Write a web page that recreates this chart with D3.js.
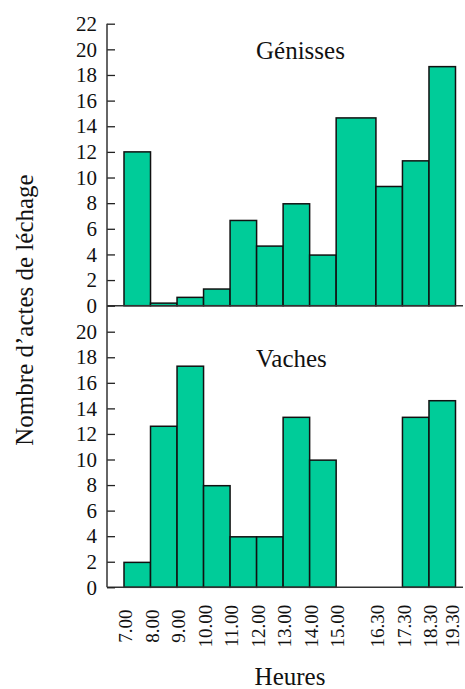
<!DOCTYPE html>
<meta charset="utf-8">
<style>
    body { margin: 0; background: #fff; }
    svg text { font-family: "Liberation Serif", "Times New Roman", Times, "Nimbus Roman", "DejaVu Serif", serif; fill: #111; }
    .bar { fill: #00cc99; stroke: #111; stroke-width: 1.5px; }
    .tick line { stroke: #222; stroke-width: 1.3px; }
</style>
<svg width="465" height="689"></svg>
<script src="https://d3js.org/d3.v7.min.js"></script>
<script>

    // bin edges (hours) and labels
    var edges = [7, 8, 9, 10, 11, 12, 13, 14, 15, 16.5, 17.5, 18.5, 19.5];
    var edgeLabels = ["7.00", "8.00", "9.00", "10.00", "11.00", "12.00", "13.00", "14.00", "15.00",
        "16.30", "17.30", "18.30", "19.30"];

    // Génisses
    var genisses = [12, 0.2, 0.65, 1.3, 6.65, 4.65, 7.95, 3.95, 14.65, 9.3, 11.3, 18.65];
    // Vaches
    var vaches = [1.95, 12.6, 17.3, 7.95, 3.95, 3.95, 13.3, 9.95, 0, 0, 13.3, 14.6];

    var topTicks = d3.range(0, 23, 2);
    var botTicks = d3.range(0, 21, 2);

    var serif = "'Liberation Serif', 'Times New Roman', Times, 'Nimbus Roman', 'DejaVu Serif', serif";

    var svg = d3.select("svg");

    var axisX = 107, rightX = 463;

    var x = d3.scaleLinear().domain([7, 19.5]).range([124, 455.5]);
    var yTop = d3.scaleLinear().domain([0, 22]).range([305.7, 23.7]);
    var yBot = d3.scaleLinear().domain([0, 20]).range([587.3, 331.7]);

    function panel(values, y, ticks, label, labelY) {
        var g = svg.append("g");

        var bins = values.map(function (v, i) {
            return {x0: edges[i], x1: edges[i + 1], v: v};
        }).filter(function (d) { return d.v > 0; });

        g.selectAll("rect")
            .data(bins)
            .enter()
            .append("rect")
            .attr("class", "bar")
            .attr("x", function (d) { return x(d.x0); })
            .attr("width", function (d) { return x(d.x1) - x(d.x0); })
            .attr("y", function (d) { return y(d.v); })
            .attr("height", function (d) { return y(0) - y(d.v); });

        // baseline
        g.append("line")
            .attr("x1", axisX).attr("x2", rightX)
            .attr("y1", y(0)).attr("y2", y(0))
            .attr("stroke", "#333").attr("stroke-width", 1.5);

        var ax = svg.append("g")
            .attr("transform", "translate(" + axisX + ",0)")
            .call(d3.axisLeft(y).tickValues(ticks).tickSize(-8).tickPadding(10).tickFormat(d3.format("d")));
        ax.attr("font-family", serif).attr("font-size", 21);
        ax.select(".domain").remove();
        ax.selectAll("text").attr("fill", "#111");

        svg.append("text")
            .attr("x", 256)
            .attr("y", labelY)
            .attr("font-family", serif)
            .attr("font-size", 25)
            .text(label);
    }

    panel(genisses, yTop, topTicks, "Génisses", 58.5);
    panel(vaches, yBot, botTicks, "Vaches", 366.5);

    // vertical axis line
    svg.append("line")
        .attr("x1", axisX).attr("x2", axisX)
        .attr("y1", yTop(22)).attr("y2", yBot(0))
        .attr("stroke", "#333").attr("stroke-width", 1.5);

    // x labels, rotated (last one pulled in so it stays inside the page)
    svg.append("g")
        .attr("font-family", serif)
        .attr("font-size", 19)
        .selectAll("text")
        .data(edges)
        .enter()
        .append("text")
        .attr("transform", function (d) {
            return "translate(" + Math.min(x(d) + 2, 453) + ",626) rotate(-90)";
        })
        .attr("text-anchor", "middle")
        .attr("dy", "0.33em")
        .text(function (d, i) { return edgeLabels[i]; });

    svg.append("text")
        .attr("x", 290)
        .attr("y", 685)
        .attr("text-anchor", "middle")
        .attr("font-family", serif)
        .attr("font-size", 25)
        .text("Heures");

    svg.append("text")
        .attr("transform", "translate(33,310) rotate(-90)")
        .attr("text-anchor", "middle")
        .attr("font-family", serif)
        .attr("font-size", 25)
        .text("Nombre d’actes de léchage");

</script>
